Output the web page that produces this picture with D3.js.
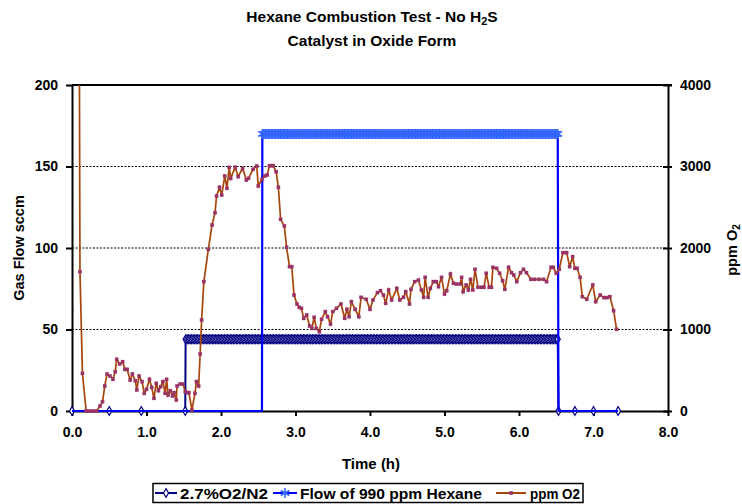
<!DOCTYPE html>
<html>
<head>
<meta charset="utf-8">
<script src="https://cdnjs.cloudflare.com/ajax/libs/d3/7.8.5/d3.min.js"></script>
<style>
  body { margin: 0; background: #fff; }
  svg { display: block; font-family: "Liberation Sans", Arial, sans-serif; font-weight: bold; }
  .axis path, .axis line { stroke: #000; }
  .axis text { font-size: 14px; font-weight: bold; fill: #000; font-family: "Liberation Sans", Arial, sans-serif; }
</style>
</head>
<body>
<div id="chart"></div>
<script>
// ---- data ----
const xTicks = [0, 1, 2, 3, 4, 5, 6, 7, 8];
const flowTicks = [0, 50, 100, 150, 200];
const ppmTicks = [0, 1000, 2000, 3000, 4000];

// 2.7%O2/N2 flow (sccm): sparse logged zeros, then the 44 sccm plateau
const n2Zero1 = [0, 0.5, 0.93, 1.52];
const n2Plateau = [1.525, 6.52, 44];      // start, end, value
const n2Zero2 = [6.53, 6.75, 7.0, 7.33];

// flow of 990 ppm hexane (sccm)
const hexZero1 = [0, 1.0, 2.0, 2.55];
const hexPlateau = [2.555, 6.52, 170];
const hexZero2 = [6.53, 7.0, 7.33];

const logStep = 0.02; // hours between logged samples on the plateaus

// ppm O2 (secondary axis): [time h, ppm]
const o2Time = [0.10,0.107,0.14,0.19,0.23,0.28,0.33,0.376,0.41,0.44,0.47,0.51,0.55,0.58,0.60,0.64,0.68,0.71,0.74,0.78,0.81,0.85,0.87,0.90,0.94,0.97,1.00,1.04,1.07,1.10,1.13,1.16,1.19,1.22,1.25,1.27,1.29,1.32,1.35,1.37,1.40,1.41,1.45,1.49,1.52,1.55,1.57,1.61,1.65,1.67,1.70,1.72,1.74,1.77,1.83,1.88,1.92,1.94,1.98,2.01,2.05,2.08,2.11,2.13,2.19,2.23,2.29,2.34,2.37,2.43,2.48,2.50,2.55,2.59,2.62,2.65,2.68,2.70,2.74,2.77,2.80,2.85,2.88,2.92,2.95,2.98,3.02,3.05,3.08,3.11,3.15,3.19,3.22,3.25,3.28,3.32,3.35,3.40,3.43,3.47,3.50,3.55,3.61,3.66,3.69,3.72,3.75,3.80,3.85,3.88,3.95,4.00,4.04,4.10,4.14,4.18,4.21,4.25,4.29,4.36,4.40,4.45,4.48,4.53,4.55,4.60,4.65,4.69,4.72,4.74,4.78,4.81,4.85,4.89,4.92,4.96,5.00,5.03,5.08,5.12,5.16,5.21,5.23,5.25,5.29,5.32,5.35,5.38,5.41,5.45,5.50,5.53,5.56,5.60,5.63,5.65,5.70,5.74,5.78,5.81,5.86,5.90,5.93,5.97,6.02,6.06,6.10,6.16,6.21,6.27,6.33,6.37,6.43,6.46,6.50,6.54,6.59,6.64,6.68,6.72,6.75,6.78,6.82,6.85,6.91,6.99,7.03,7.09,7.14,7.18,7.22,7.27,7.31];
const o2Ppm = [4000,1709,462,0,0,0,0,61,114,307,454,429,389,482,634,577,605,511,511,380,454,372,258,429,360,217,266,389,290,156,340,249,298,360,217,389,196,249,184,225,135,307,331,331,237,225,225,12,217,360,307,700,1117,1587,1984,2282,2433,2638,2745,2650,2884,2733,2990,2855,2990,2875,2978,2834,2855,2966,3006,2761,2843,2884,2896,3010,3010,3010,2936,2745,2352,2270,2009,1771,1771,1423,1313,1272,1260,1137,1178,1043,1014,1150,1014,973,1125,1219,1157,1067,1219,1260,1313,1137,1248,1157,1341,1248,1157,1395,1370,1248,1362,1452,1476,1423,1321,1485,1362,1505,1362,1395,1464,1313,1493,1587,1607,1485,1395,1640,1395,1505,1587,1587,1525,1640,1435,1476,1681,1567,1558,1558,1640,1464,1546,1485,1616,1485,1739,1518,1518,1518,1690,1518,1518,1763,1751,1690,1599,1493,1763,1697,1669,1587,1697,1739,1697,1616,1616,1616,1616,1587,1763,1763,1690,1739,1943,1943,1771,1894,1751,1751,1640,1403,1370,1546,1341,1423,1391,1391,1403,1231,1002];

// ---- layout ----
const W = 742, H = 504;
const X0 = 72, X1 = 668, Y0 = 85, Y1 = 411;

function flowSeries(zero1, plateau, zero2) {
  const pts = zero1.map(t => ({t, v: 0}));
  for (let t = plateau[0]; t <= plateau[1] + 1e-9; t += logStep) pts.push({t, v: plateau[2]});
  pts.push({t: plateau[1], v: plateau[2]});
  zero2.forEach(t => pts.push({t, v: 0}));
  return pts;
}
const n2Data = flowSeries(n2Zero1, n2Plateau, n2Zero2);
const hexData = flowSeries(hexZero1, hexPlateau, hexZero2);
const o2Data = o2Time.map((t, i) => ({t, v: o2Ppm[i]}));

const x = d3.scaleLinear().domain([0, 8]).range([X0, X1]);
const yL = d3.scaleLinear().domain([0, 200]).range([Y1, Y0]);
const yR = d3.scaleLinear().domain([0, 4000]).range([Y1, Y0]);

const svg = d3.select('#chart').append('svg')
  .attr('width', W).attr('height', H).attr('viewBox', `0 0 ${W} ${H}`);

// title
const title = svg.append('text').attr('x', 372).attr('y', 22)
  .attr('text-anchor', 'middle').style('font-size', '15.5px');
title.append('tspan').text('Hexane Combustion Test - No H');
title.append('tspan').attr('dy', 3).style('font-size', '11px').text('2');
title.append('tspan').attr('dy', -3).text('S');
svg.append('text').attr('x', 372).attr('y', 46)
  .attr('text-anchor', 'middle').style('font-size', '15.5px').text('Catalyst in Oxide Form');

// gridlines
svg.append('g').selectAll('line').data(flowTicks.filter(d => d > 0 && d < 200)).join('line')
  .attr('x1', X0).attr('x2', X1).attr('y1', d => yL(d)).attr('y2', d => yL(d))
  .attr('stroke', '#000').attr('stroke-width', 1).attr('stroke-dasharray', '2,1.5');
svg.append('line').attr('x1', X0).attr('x2', X1 + 4).attr('y1', Y0).attr('y2', Y0)
  .attr('stroke', '#000').attr('stroke-width', 2);

// axes
const fmt1 = d3.format('.1f');
svg.append('g').attr('class', 'axis').attr('transform', `translate(${X0},0)`)
  .call(d3.axisLeft(yL).tickValues(flowTicks).tickSize(6).tickPadding(8).tickSizeOuter(0))
  .call(g => g.selectAll('path,line').attr('stroke-width', 2));
svg.append('g').attr('class', 'axis').attr('transform', `translate(${X1},0)`)
  .call(d3.axisRight(yR).tickValues(ppmTicks).tickFormat(d3.format('d')).tickSize(4).tickPadding(8).tickSizeOuter(0))
  .call(g => g.selectAll('line').attr('x1', -5))
  .call(g => g.selectAll('path,line').attr('stroke-width', 2));
svg.append('g').attr('class', 'axis').attr('transform', `translate(0,${Y1})`)
  .call(d3.axisBottom(x).tickValues(xTicks).tickFormat(fmt1).tickSize(5).tickPadding(11).tickSizeOuter(0))
  .call(g => g.selectAll('path,line').attr('stroke-width', 2));

// axis titles
svg.append('text').attr('x', 371).attr('y', 469).attr('text-anchor', 'middle')
  .style('font-size', '15px').text('Time (h)');
svg.append('text').attr('transform', 'translate(24,248) rotate(-90)').attr('text-anchor', 'middle')
  .style('font-size', '14.5px').text('Gas Flow sccm');
const rt = svg.append('text').attr('transform', 'translate(737,250) rotate(-90)').attr('text-anchor', 'middle')
  .style('font-size', '14.5px');
rt.append('tspan').text('ppm  O');
rt.append('tspan').attr('dy', 3).style('font-size', '10px').text('2');

// marker shapes
const diamond = d3.symbol().type(d3.symbolDiamond).size(22);
const star = d3.symbol().type(d3.symbolAsterisk).size(70);
const square = d3.symbol().type(d3.symbolSquare).size(13);

// series 1: 2.7%O2/N2
svg.append('path').datum(n2Data).attr('fill', 'none').attr('stroke', '#000080').attr('stroke-width', 2)
  .attr('d', d3.line().x(d => x(d.t)).y(d => yL(d.v)));
svg.append('g').selectAll('path').data(n2Data).join('path')
  .attr('transform', d => `translate(${x(d.t)},${yL(d.v)})`).attr('d', diamond)
  .attr('fill', '#fff').attr('stroke', '#000080').attr('stroke-width', 1.2);

// series 2: hexane flow
svg.append('path').datum(hexData).attr('fill', 'none').attr('stroke', '#0000FF').attr('stroke-width', 2.2)
  .attr('d', d3.line().x(d => x(d.t)).y(d => yL(d.v)));
svg.append('g').selectAll('path').data(hexData.filter(d => d.v > 0)).join('path')
  .attr('transform', d => `translate(${x(d.t)},${yL(d.v)})`).attr('d', star)
  .attr('fill', '#3366FF').attr('stroke', '#3366FF').attr('stroke-width', 1.6);

// series 3: ppm O2 on secondary axis
svg.append('path').datum(o2Data).attr('fill', 'none').attr('stroke', '#A8450C').attr('stroke-width', 1.7)
  .attr('d', d3.line().x(d => x(d.t)).y(d => yR(d.v)));
svg.append('g').selectAll('path').data(o2Data.slice(1)).join('path')
  .attr('transform', d => `translate(${x(d.t)},${yR(d.v)})`).attr('d', square)
  .attr('fill', '#993366');

// legend
const lg = svg.append('g');
lg.append('rect').attr('x', 153).attr('y', 483.5).attr('width', 430).attr('height', 19)
  .attr('fill', '#fff').attr('stroke', '#000').attr('stroke-width', 1.5);
const items = [
  {x: 155, w: 22, tx: 180, tw: 88, label: '2.7%O2/N2', color: '#000080', m: 'd'},
  {x: 273, w: 24, tx: 300, tw: 182, label: 'Flow of 990 ppm Hexane', color: '#0000FF', m: 's'},
  {x: 496, w: 30, tx: 530, tw: 50, label: 'ppm O2', color: '#A8450C', m: 'q'}
];
items.forEach(it => {
  const cy = 493;
  lg.append('line').attr('x1', it.x).attr('x2', it.x + it.w).attr('y1', cy).attr('y2', cy)
    .attr('stroke', it.color).attr('stroke-width', 2);
  const mk = lg.append('path').attr('transform', `translate(${it.x + it.w / 2},${cy})`);
  if (it.m === 'd') mk.attr('d', diamond).attr('fill', '#fff').attr('stroke', '#000080').attr('stroke-width', 1.2);
  if (it.m === 's') mk.attr('d', star).attr('fill', '#3366FF').attr('stroke', '#3366FF').attr('stroke-width', 1.6);
  if (it.m === 'q') mk.attr('d', square).attr('fill', '#993366');
  lg.append('text').attr('x', it.tx).attr('y', cy + 5.5).style('font-size', '15px')
    .attr('textLength', it.tw).attr('lengthAdjust', 'spacingAndGlyphs').text(it.label);
});
</script>
</body>
</html>
